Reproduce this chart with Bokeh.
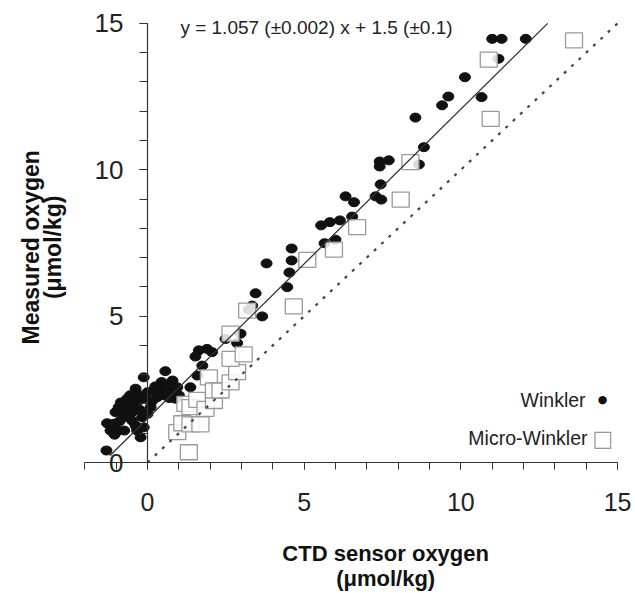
import math
from bokeh.plotting import figure
from bokeh.models import Range1d, SingleIntervalTicker, Label
from bokeh.embed import file_html
from bokeh.resources import INLINE

# ---- data ----
winkler_x = [11.0, 11.3, 12.07, 11.2, 10.13, 9.6, 9.4, 10.66, 8.55, 8.82,
             7.41, 7.7, 7.41, 8.66, 7.44, 7.28, 7.46, 6.32, 6.59, 6.53,
             6.14, 5.82, 5.54, 5.65, 6.0,
             4.6, 4.6, 4.53, 3.8, 4.46, 3.45, 3.23, 3.34, 3.66, 2.97,
             2.49, 2.86, 1.64, 1.9, 2.06, 1.53, 1.75, 1.59, 1.37,
             -1.31, -1.29, -1.18, -1.08, -1.02, -0.95, -0.92, -0.76, -0.74, -0.65,
             -0.6, -0.49, -0.49, -0.38, -0.38, -0.33, -0.33, -0.27, -0.22, -0.17,
             -0.12, -0.12, 0.0, 0.0, 0.1, 0.2, 0.31, 0.41, 0.57, 0.63,
             0.73, 0.84, 0.89, 0.95, -0.85, -0.55, -0.7, -0.45, -0.25, -0.1,
             0.15, 0.25, 0.5, 0.45, 0.7, 1.0, 0.8, -0.9, -1.05]
winkler_y = [14.47, 14.47, 14.47, 13.79, 13.16, 12.5, 12.2, 12.48, 11.78, 10.77,
             10.28, 10.32, 10.11, 10.18, 9.5, 9.09, 8.98, 9.09, 8.89, 8.4,
             8.27, 8.21, 8.1, 7.49, 7.61,
             7.31, 6.9, 6.49, 6.8, 5.99, 5.78, 5.22, 5.36, 4.99, 4.4,
             4.22, 4.08, 3.83, 3.88, 3.77, 3.62, 3.31, 2.97, 2.57,
             0.41, 1.34, 1.09, 1.32, 1.72, 1.09, 1.89, 1.55, 1.09, 2.18,
             2.0, 1.43, 1.72, 2.52, 1.26, 1.09, 2.35, 2.12, 0.86, 1.55,
             1.2, 2.91, 1.66, 2.4, 1.89, 2.46, 2.23, 2.52, 3.12, 2.46,
             2.69, 2.35, 2.18, 2.57, 2.05, 2.3, 1.8, 2.0, 1.8, 2.2,
             2.1, 2.6, 2.3, 2.75, 2.2, 2.3, 2.8, 1.4, 0.95]

micro_x = [1.32, 0.95, 1.11, 1.37, 1.69, 1.21, 1.37, 1.59, 1.85, 2.12,
           1.96, 2.12, 2.33, 2.65, 2.86, 2.65, 3.07, 2.65, 3.18, 4.67,
           5.1, 5.95, 6.69, 8.08, 8.39, 10.95, 10.89, 13.61]
micro_y = [0.35, 1.04, 1.34, 1.3, 1.3, 2.0, 1.89, 2.14, 1.83, 2.1,
           2.91, 2.46, 2.46, 2.74, 3.09, 3.54, 3.69, 4.4, 5.19, 5.33,
           6.92, 7.27, 8.04, 8.98, 10.26, 11.74, 13.76, 14.42]

fit_slope = 1.057
fit_intercept = 1.5
fit_x = [-1.2, 12.77]
one_to_one = [0, 15]

equation_text = "y = 1.057 (\u00b10.002) x + 1.5 (\u00b10.1)"
x_title = ["CTD sensor oxygen", "(\u03bcmol/kg)"]
y_title = ["Measured oxygen", "(\u03bcmol/kg)"]
legend_labels = ["Winkler", "Micro-Winkler"]

FONT = "Liberation Sans"

# the frame covers the whole canvas; axes cross at 0 inside it
p = figure(width=634, height=592, x_range=Range1d(-4.69, 15.54), y_range=Range1d(-4.44, 15.78),
           output_backend="svg", toolbar_location=None,
           min_border_left=0, min_border_right=0, min_border_top=0, min_border_bottom=0)
p.outline_line_color = None
p.grid.visible = False
p.background_fill_color = "white"

# x axis
xa = p.xaxis[0]
xa.fixed_location = 0
xa.bounds = (-2, 15)
xa.ticker = SingleIntervalTicker(interval=5, num_minor_ticks=5)
xa.axis_line_color = "#333333"
xa.axis_line_width = 1.2
xa.major_tick_line_color = "#333333"
xa.minor_tick_line_color = "#333333"
xa.major_tick_in = 0
xa.major_tick_out = 7
xa.minor_tick_in = 0
xa.minor_tick_out = 7
xa.major_label_text_font = FONT
xa.major_label_text_font_size = "25px"
xa.major_label_text_color = "#222222"
xa.major_label_standoff = 23

# y axis
ya = p.yaxis[0]
ya.fixed_location = 0
ya.bounds = (0, 15)
ya.ticker = SingleIntervalTicker(interval=5, num_minor_ticks=5)
ya.axis_line_color = "#333333"
ya.axis_line_width = 1.2
ya.major_tick_line_color = "#333333"
ya.minor_tick_line_color = "#333333"
ya.major_tick_in = 0
ya.major_tick_out = 8
ya.minor_tick_in = 0
ya.minor_tick_out = 8
ya.major_label_text_font = FONT
ya.major_label_text_font_size = "26px"
ya.major_label_text_color = "#222222"
ya.major_label_standoff = 16

# data
p.ellipse(x=winkler_x, y=winkler_y, width=11, height=9, width_units="screen",
          height_units="screen", fill_color="#111111", line_color="#111111")
p.rect(x=micro_x, y=micro_y, width=17, height=15, width_units="screen",
       height_units="screen", fill_color="white", fill_alpha=0.85,
       line_color="#999999", line_width=1.3)

p.line(x=fit_x, y=[fit_slope * v + fit_intercept for v in fit_x],
       line_color="#333333", line_width=1.3)
p.line(x=one_to_one, y=one_to_one, line_color="#444444", line_width=2.2, line_dash="3 7")

p.add_layout(Label(x=1.05, y=14.86, text=equation_text, text_font=FONT,
                   text_font_size="19px", text_color="#222222", text_baseline="middle"))

# axis titles
for txt, yy in zip(x_title, [-3.12, -3.95]):
    p.add_layout(Label(x=7.6, y=yy, text=txt, text_font=FONT, text_font_style="bold",
                       text_font_size="22px", text_color="#111111",
                       text_align="center", text_baseline="middle"))
for txt, xx in zip(y_title, [-3.73, -3.03]):
    p.add_layout(Label(x=xx, y=7.35, text=txt, text_font=FONT, text_font_style="bold",
                       text_font_size="23px", text_color="#111111", angle=math.pi / 2,
                       text_align="center", text_baseline="middle"))

# legend
p.add_layout(Label(x=13.98, y=2.15, text=legend_labels[0], text_font=FONT,
                   text_font_size="19.5px", text_color="#222222", text_align="right",
                   text_baseline="middle"))
p.add_layout(Label(x=14.52, y=2.15, text="\u25cf", text_font="DejaVu Sans",
                   text_font_size="11px", text_color="#111111", text_align="center",
                   text_baseline="middle"))
p.add_layout(Label(x=14.04, y=0.82, text=legend_labels[1], text_font=FONT,
                   text_font_size="19.5px", text_color="#222222", text_align="right",
                   text_baseline="middle"))
p.add_layout(Label(x=14.52, y=0.82, text="\u25a1", text_font="DejaVu Sans",
                   text_font_size="22px", text_color="#999999", text_align="center",
                   text_baseline="middle"))

open("out.html", "w").write(file_html(p, INLINE))
